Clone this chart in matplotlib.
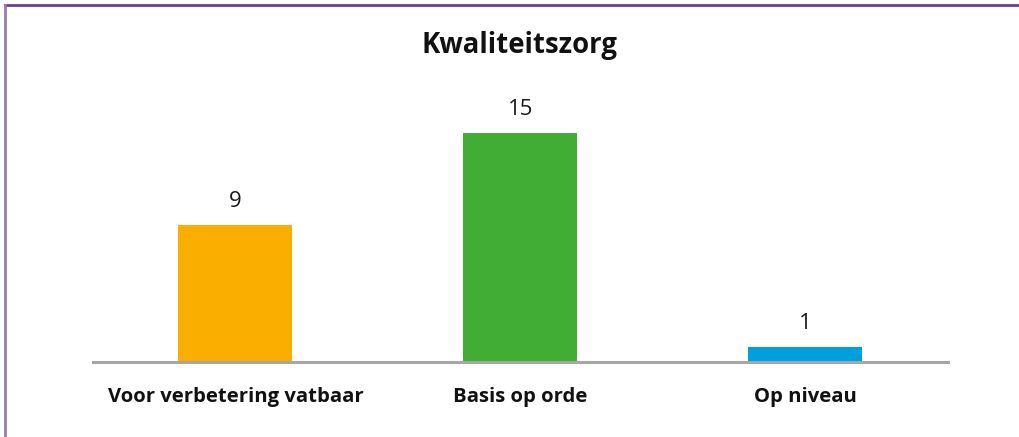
import numpy as np
import matplotlib
matplotlib.use('Agg')
import matplotlib.pyplot as plt
from matplotlib.lines import Line2D

# data
categories = ['Voor verbetering vatbaar', 'Basis op orde', 'Op niveau']
values = [9, 15, 1]
colors = ['#f9ae00', '#42ad35', '#009fe0']
title = 'Kwaliteitszorg'

plt.rcParams['font.family'] = ['Open Sans', 'DejaVu Sans']

fig = plt.figure(figsize=(10.2, 4.37), dpi=100)
W, H = 1020, 437

# axes: x 93..948 px, bottom at y=362, 15.27 px per unit
ymax = 16
top_px = 362 - 15.27 * ymax
ax = fig.add_axes([93 / W, 1 - 362 / H, (948 - 93) / W, (362 - top_px) / H])

x = np.arange(len(categories))
ax.bar(x, values, width=0.4, color=colors)
ax.set_xlim(-0.5, 2.5)
ax.set_ylim(0, ymax)

for xi, v in zip(x, values):
    ax.annotate(str(v), (xi, v), xytext=(0, 9), textcoords='offset points',
                ha='center', va='bottom', fontsize=16, color='#1a1a1a')

for s in ['top', 'right', 'left']:
    ax.spines[s].set_visible(False)
ax.spines['bottom'].set_color('#a6a6a6')
ax.spines['bottom'].set_linewidth(2.2)
ax.set_yticks([])
ax.set_xticks(x)
ax.set_xticklabels(categories, fontsize=14.6, fontweight='bold', color='#111111')
ax.tick_params(axis='x', length=0, pad=18)

fig.text(520 / W, 1 - 45 / H, title, ha='center', va='center',
         fontsize=19.8, fontweight='bold', color='#111111')

# purple frame (top and left)
fig.add_artist(Line2D([5.5 / W, 1], [1 - 4.5 / H, 1 - 4.5 / H], color='#6b3f8c', lw=2))
fig.add_artist(Line2D([5.5 / W, 5.5 / W], [0, 1 - 4.5 / H], color='#9a7ab5', lw=2))

fig.savefig('out.png', dpi=100)
